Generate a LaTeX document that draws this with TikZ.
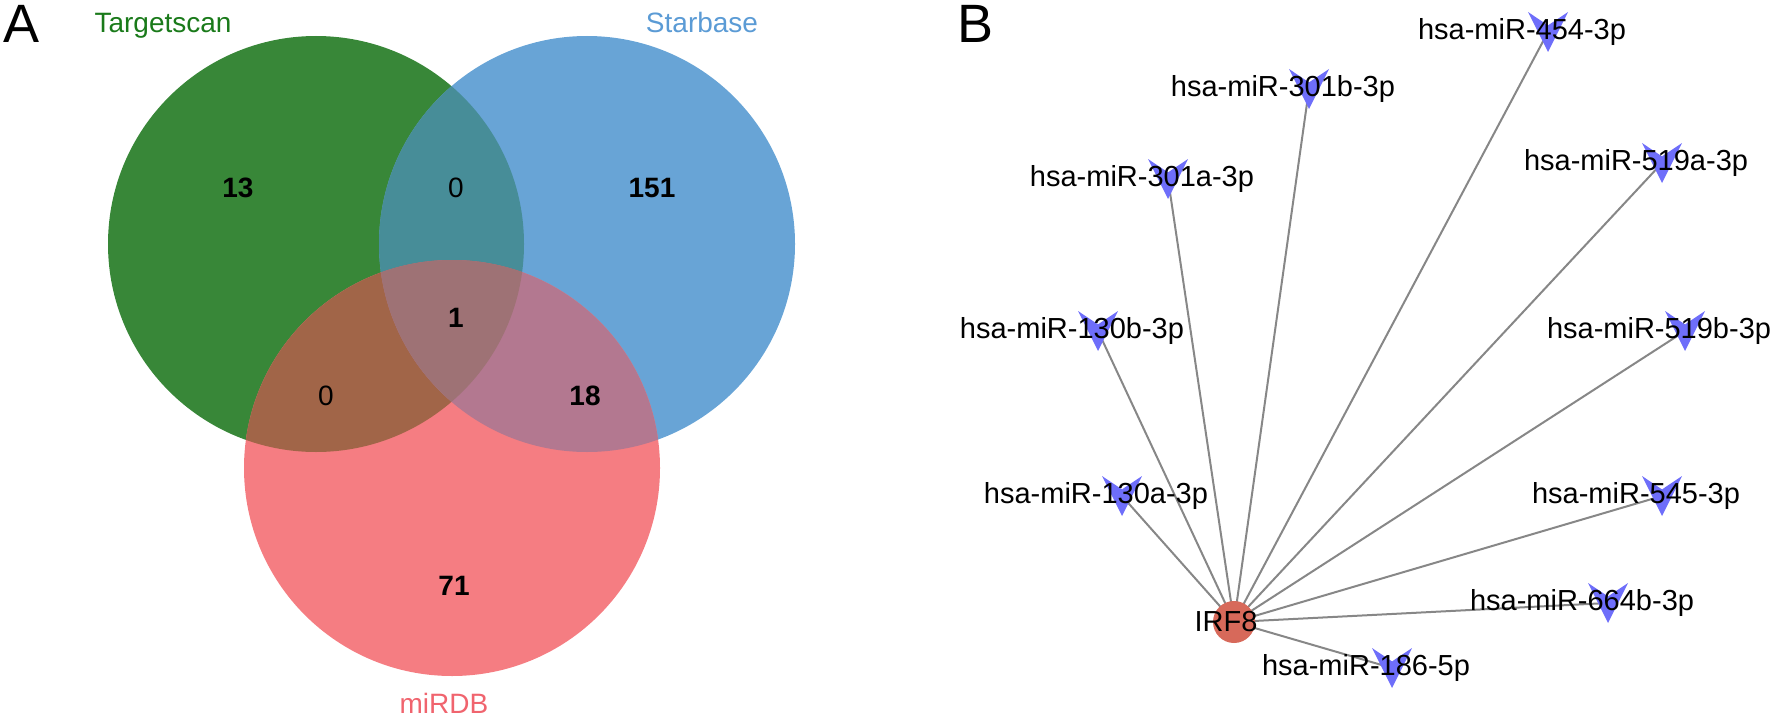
\documentclass[tikz,border=0pt]{standalone}
\usepackage{fontspec}
\setmainfont{Liberation Sans}
\usetikzlibrary{backgrounds}

\definecolor{tsgreen}{RGB}{56,135,56}
\definecolor{sbblue}{RGB}{104,164,214}
\definecolor{dbred}{RGB}{245,125,130}
\definecolor{tsXsb}{RGB}{71,141,152}
\definecolor{tsXdb}{RGB}{161,101,72}
\definecolor{sbXdb}{RGB}{179,120,144}
\definecolor{allthree}{RGB}{158,114,117}
\definecolor{tstext}{RGB}{26,122,26}
\definecolor{sbtext}{RGB}{91,155,213}
\definecolor{dbtext}{RGB}{240,100,110}
\definecolor{veeblue}{RGB}{110,110,250}
\definecolor{hubred}{RGB}{215,105,90}
\definecolor{edgegray}{RGB}{135,135,135}

\begin{document}
\begin{tikzpicture}[x=0.5pt, y=-0.5pt,
    panel/.style  ={font=\fontsize{27}{30}\selectfont, anchor=base},
    setname/.style={font=\fontsize{14}{16}\selectfont, anchor=base},
    count/.style  ={font=\fontsize{14}{16}\selectfont\bfseries, anchor=base},
    nought/.style ={font=\fontsize{14}{16}\selectfont, anchor=base},
    mirlab/.style ={font=\fontsize{14.5}{17}\selectfont, xshift=-13pt},
    mirna/.style  ={rectangle, minimum size=20pt, inner sep=0pt,
                    path picture={\fill[veeblue]
                      ([shift={(-10pt,10pt)}]path picture bounding box.center)
                      -- ([shift={(0pt,3.3pt)}]path picture bounding box.center)
                      -- ([shift={(10pt,10pt)}]path picture bounding box.center)
                      -- ([shift={(0pt,-10pt)}]path picture bounding box.center) -- cycle;},
                    label={[mirlab]center:#1}},
    hub/.style    ={circle, fill=hubred, minimum size=21pt, inner sep=0pt,
                    label={[mirlab, xshift=9pt]center:#1}},
    edge/.style   ={draw=edgegray, line width=1pt}
  ]
    \useasboundingbox (0,0) rectangle (1770,717);

    % --- panel A: Venn diagram ---
    \node[panel] (lblA) at (22,43) {A};
    \coordinate (cTS) at (316,244);
    \coordinate (cSB) at (587,244);
    \coordinate (cDB) at (452,468);
    \fill[tsgreen] (cTS) circle[radius=208];
    \fill[sbblue]  (cSB) circle[radius=208];
    \fill[dbred]   (cDB) circle[radius=208];
    % pairwise overlaps
    \begin{scope}
      \clip (cTS) circle[radius=208];
      \fill[tsXsb] (cSB) circle[radius=208];
    \end{scope}
    \begin{scope}
      \clip (cTS) circle[radius=208];
      \fill[tsXdb] (cDB) circle[radius=208];
    \end{scope}
    \begin{scope}
      \clip (cSB) circle[radius=208];
      \fill[sbXdb] (cDB) circle[radius=208];
    \end{scope}
    % centre
    \begin{scope}
      \clip (cTS) circle[radius=208];
      \clip (cSB) circle[radius=208];
      \fill[allthree] (cDB) circle[radius=208];
    \end{scope}
    % set names
    \node[setname, text=tstext] (nTS) at (163,33) {Targetscan};
    \node[setname, text=sbtext] (nSB) at (702,33) {Starbase};
    \node[setname, text=dbtext] (nDB) at (444,713) {miRDB};
    % counts
    \node[count]  (k13)  at (238,197) {13};
    \node[nought] (k0a)  at (456,197) {0};
    \node[count]  (k151) at (652,197) {151};
    \node[count]  (k1)   at (456,327) {1};
    \node[nought] (k0b)  at (326,405) {0};
    \node[count]  (k18)  at (585,405) {18};
    \node[count]  (k71)  at (454,595) {71};

    % --- panel B: IRF8 network ---
    \node[panel] (lblB) at (975,43) {B};
    \node[hub={IRF8}] (irf8) at (1234,622) {};
    \node[mirna={hsa-miR-454-3p}]  (m454)  at (1548,32)  {};
    \node[mirna={hsa-miR-301b-3p}] (m301b) at (1309,89)  {};
    \node[mirna={hsa-miR-301a-3p}] (m301a) at (1168,179) {};
    \node[mirna={hsa-miR-519a-3p}] (m519a) at (1662,163) {};
    \node[mirna={hsa-miR-130b-3p}] (m130b) at (1098,331) {};
    \node[mirna={hsa-miR-519b-3p}] (m519b) at (1685,331) {};
    \node[mirna={hsa-miR-130a-3p}] (m130a) at (1122,496) {};
    \node[mirna={hsa-miR-545-3p}]  (m545)  at (1662,496) {};
    \node[mirna={hsa-miR-664b-3p}] (m664b) at (1608,603) {};
    \node[mirna={hsa-miR-186-5p}]  (m186)  at (1392,668) {};
    % edges under the nodes
    \begin{scope}[on background layer]
      \foreach \m in {m454,m301b,m301a,m519a,m130b,m519b,m130a,m545,m664b,m186}
        \draw[edge] (irf8.center) -- (\m.center);
    \end{scope}
  \end{tikzpicture}
\end{document}
